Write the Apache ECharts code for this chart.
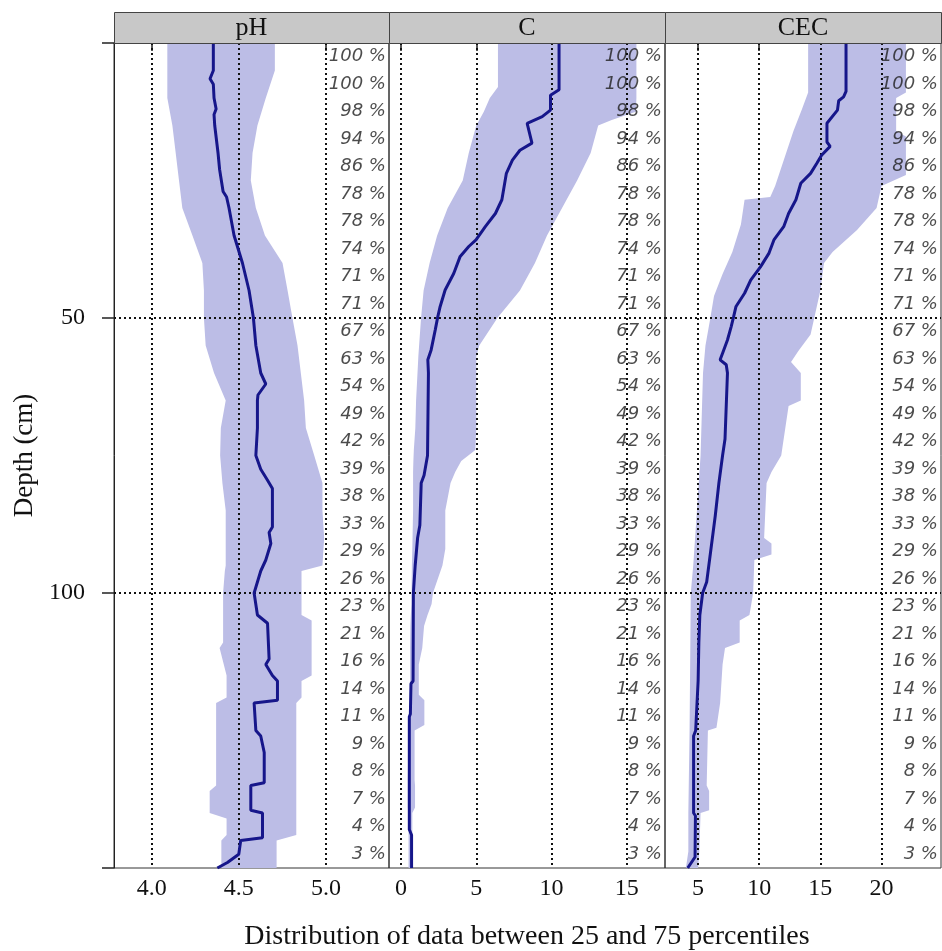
<!DOCTYPE html>
<html>
<head>
<meta charset="utf-8">
<script src="https://cdn.jsdelivr.net/npm/echarts@6/dist/echarts.min.js"></script>
<style>html,body{margin:0;padding:0;background:#fff}#c{width:942px;height:951px}</style>
</head>
<body>
<div id="c"></div>
<script>
// ---------- data ----------
const panelNames = ['pH', 'C', 'CEC'];
const depthTicks = [50, 100];
const phTicks = [4.0, 4.5, 5.0];
const cTicks = [0, 5, 10, 15];
const cecTicks = [5, 10, 15, 20];

const binDepth = [2.5, 7.5, 12.5, 17.5, 22.5, 27.5, 32.5, 37.5, 42.5, 47.5, 52.5, 57.5, 62.5, 67.5, 72.5,
  77.5, 82.5, 87.5, 92.5, 97.5, 102.5, 107.5, 112.5, 117.5, 122.5, 127.5, 132.5, 137.5, 142.5, 147.5];
const pctLabels = ['100 %', '100 %', '98 %', '94 %', '86 %', '78 %', '78 %', '74 %', '71 %', '71 %', '67 %', '63 %',
  '54 %', '49 %', '42 %', '39 %', '38 %', '33 %', '29 %', '26 %', '23 %', '21 %', '16 %', '14 %', '11 %', '9 %',
  '8 %', '7 %', '4 %', '3 %'];

// pH
const phBandDepth = [0, 5, 10, 15, 20, 25, 30, 35, 40, 45, 50, 55, 60, 65, 70, 75, 80, 85, 90, 95, 96, 100, 104, 105,
  109, 110, 115, 116, 119, 120, 135, 136, 140, 141, 144, 145, 150];
const phLow = [4.09, 4.09, 4.09, 4.119, 4.138, 4.157, 4.176, 4.234, 4.291, 4.30, 4.30, 4.31, 4.358, 4.425, 4.397,
  4.393, 4.406, 4.425, 4.425, 4.425, 4.42, 4.41, 4.41, 4.41, 4.41, 4.39, 4.43, 4.43, 4.43, 4.37, 4.37, 4.333, 4.333,
  4.43, 4.43, 4.40, 4.40];
const phHigh = [4.707, 4.707, 4.655, 4.607, 4.579, 4.569, 4.598, 4.65, 4.751, 4.78, 4.808, 4.837, 4.856, 4.875, 4.885,
  4.933, 4.98, 4.98, 4.99, 4.98, 4.86, 4.86, 4.86, 4.918, 4.918, 4.918, 4.918, 4.86, 4.86, 4.83, 4.83, 4.83, 4.83,
  4.83, 4.83, 4.717, 4.717];
const phMedDepth = [0, 5, 6.5, 7.5, 10, 12, 13, 15, 20, 23, 25, 27, 28, 30, 35, 40, 45, 50, 55, 60, 62, 64, 65, 70, 75,
  77.5, 79.5, 81, 88, 89, 91, 94, 96, 98, 100, 104, 105.5, 112, 113, 115, 116, 119.5, 120, 125, 126, 129, 134.5, 135,
  139.5, 140, 144.5, 145, 147.5, 149, 150];
const phMed = [4.354, 4.354, 4.335, 4.354, 4.358, 4.37, 4.358, 4.362, 4.381, 4.39, 4.40, 4.41, 4.43, 4.444, 4.473,
  4.521, 4.559, 4.584, 4.598, 4.626, 4.655, 4.61, 4.607, 4.607, 4.598, 4.626, 4.665, 4.693, 4.693, 4.674, 4.684,
  4.655, 4.626, 4.607, 4.588, 4.607, 4.665, 4.674, 4.655, 4.693, 4.722, 4.722, 4.588, 4.598, 4.626, 4.646, 4.646,
  4.569, 4.569, 4.636, 4.636, 4.511, 4.50, 4.435, 4.377];

// C
const cBandDepth = [0, 8, 10, 12.5, 14, 15, 20, 25, 30, 35, 40, 45, 50, 55, 57, 65, 70, 74, 76, 78, 80, 85, 92, 95, 100,
  102, 104, 106, 110, 113, 118.5, 119.5, 124, 125, 134, 135, 139, 140, 150];
const cLow = [6.44, 6.44, 5.9, 5.5, 5.2, 5.0, 4.5, 4.1, 3.1, 2.4, 1.9, 1.5, 1.33, 1.2, 1.15, 1.0, 0.95, 0.85, 0.82, 0.8,
  0.8, 0.8, 0.75, 0.72, 0.7, 0.7, 0.65, 0.62, 0.6, 0.6, 0.6, 0.6, 0.55, 0.5, 0.45, 0.45, 0.45, 0.5, 0.5];
const cHigh = [15.64, 15.64, 15.64, 15.6, 14.0, 13.1, 12.6, 11.7, 10.7, 9.7, 8.9, 7.9, 6.4, 5.2, 5.0, 5.0, 5.0, 4.94,
  4.0, 3.6, 3.29, 2.94, 2.94, 2.75, 2.12, 2.03, 1.76, 1.53, 1.41, 1.18, 1.18, 1.55, 1.55, 0.9, 0.9, 0.93, 0.93, 0.75,
  0.75];
const cMedDepth = [0, 8.5, 9.5, 12.2, 13.4, 14.6, 18.2, 19.5, 21.3, 23.7, 28.5, 31, 33.4, 35.8, 37, 38.8, 41.9, 44.9,
  47.9, 49.8, 52.2, 55.8, 57.6, 60, 75, 78.6, 80, 87.7, 90, 95, 100, 116, 116.5, 122, 122.5, 143, 144, 150];
const cMed = [10.5, 10.5, 9.93, 9.93, 9.38, 8.38, 8.7, 7.9, 7.4, 7.0, 6.7, 6.27, 5.6, 4.98, 4.5, 3.93, 3.5, 2.93, 2.6,
  2.44, 2.27, 2.0, 1.78, 1.82, 1.76, 1.53, 1.34, 1.25, 1.1, 0.94, 0.82, 0.8, 0.66, 0.62, 0.55, 0.55, 0.7, 0.7];

// CEC
const cecLowDepth = [0, 9, 12, 16, 20, 26, 28, 28.5, 33, 38, 42, 46, 50, 55, 60, 75, 85, 95, 100, 125, 140, 147, 150];
const cecLow = [14.0, 14.0, 13.5, 12.8, 12.2, 11.3, 10.9, 8.8, 8.5, 7.8, 7.0, 6.3, 6.0, 5.6, 5.4, 5.2, 4.9, 4.6, 4.4,
  4.3, 4.2, 4.2, 4.0];
const cecHighDepth = [0, 9, 10, 16, 17, 24, 26, 30, 34, 38, 40, 45, 48, 50, 53, 56, 58, 60, 65, 66, 75, 78, 80, 90, 91,
  93, 94, 100, 104, 105, 109, 110, 113, 120, 124.5, 125, 135, 136, 139.5, 140, 147, 150];
const cecHigh = [22.0, 22.0, 21.2, 21.2, 22.0, 22.0, 20.0, 19.6, 18.0, 16.0, 15.3, 15.0, 14.7, 14.5, 14.2, 13.2, 12.6,
  13.4, 13.4, 12.4, 11.8, 11.0, 10.6, 10.4, 11.0, 11.0, 9.6, 9.5, 9.2, 8.4, 8.4, 7.2, 7.0, 6.8, 6.5, 5.8, 5.7, 5.9,
  5.9, 5.2, 5.1, 5.0];
const cecMedDepth = [0, 8.8, 9.8, 10.5, 12.2, 14.6, 18, 18.8, 20.4, 21.9, 23.7, 25.5, 28.5, 31, 33.4, 35.8, 38.2, 40.7,
  43.1, 45.5, 47.9, 49.8, 51.6, 54, 56.4, 57.6, 58.5, 60, 72, 75, 80, 86, 92, 98, 100, 104, 109, 116, 125, 126, 140,
  140.5, 148, 150];
const cecMed = [17.1, 17.1, 16.9, 16.5, 16.4, 15.54, 15.54, 15.8, 15.1, 14.7, 14.2, 13.4, 13.0, 12.4, 12.0, 11.2, 10.8,
  10.1, 9.3, 8.8, 8.1, 7.9, 7.7, 7.4, 7.0, 6.8, 7.3, 7.4, 7.2, 7.0, 6.7, 6.4, 6.05, 5.7, 5.37, 5.14, 5.06, 5.0, 4.8,
  4.63, 4.63, 4.78, 4.75, 4.15];

// ---------- layout / style ----------
const SERIF = 'Liberation Serif, Times New Roman, serif';
const BAND = '#bcbde6';
const MED = '#16168a';
const TOP = 43, HEIGHT = 825;
const panels = [
  {left: 114, width: 275, min: 3.784, max: 5.362, ticks: phTicks, dec: 1,
   lowD: phBandDepth, low: phLow, highD: phBandDepth, high: phHigh, medD: phMedDepth, med: phMed},
  {left: 389, width: 276, min: -0.80, max: 17.54, ticks: cTicks, dec: 0,
   lowD: cBandDepth, low: cLow, highD: cBandDepth, high: cHigh, medD: cMedDepth, med: cMed},
  {left: 665, width: 276, min: 2.29, max: 24.87, ticks: cecTicks, dec: 0,
   lowD: cecLowDepth, low: cecLow, highD: cecHighDepth, high: cecHigh, medD: cecMedDepth, med: cecMed}
];

const grids = [], xAxes = [], yAxes = [], series = [], graphics = [];
panels.forEach((p, i) => {
  grids.push({left: p.left, top: TOP, width: p.width, height: HEIGHT, show: true, containLabel: false,
    outerBoundsMode: 'none',
    borderColor: '#333', borderWidth: 1, backgroundColor: 'transparent'});
  xAxes.push({
    type: 'value', gridIndex: i, min: p.min, max: p.max,
    splitLine: {show: false},
    axisLine: {show: true, lineStyle: {color: '#222', width: 1}},
    axisTick: {show: true, customValues: p.ticks, length: 8, lineStyle: {color: '#222', width: 1.5}},
    axisLabel: {show: true, customValues: p.ticks, margin: 9, fontFamily: SERIF, fontSize: 24, color: '#111',
      formatter: v => Number(v).toFixed(p.dec)},
    name: i === 1 ? 'Distribution of data between 25 and 75 percentiles' : '',
    nameLocation: 'middle', nameGap: 55,
    nameTextStyle: {fontFamily: SERIF, fontSize: 28, color: '#111'}
  });
  yAxes.push({
    type: 'value', gridIndex: i, min: 0, max: 150, interval: 50, inverse: true,
    show: i === 0,
    splitLine: {show: false},
    axisLine: {show: true, lineStyle: {color: '#222', width: 1}},
    axisTick: {show: true, length: 12, lineStyle: {color: '#222', width: 1.5}},
    axisLabel: {show: true, margin: 29, fontFamily: SERIF, fontSize: 24, color: '#111',
      formatter: v => depthTicks.indexOf(v) >= 0 ? String(v) : ''},
    name: i === 0 ? 'Depth (cm)' : '', nameLocation: 'middle', nameGap: 76, nameRotate: 90,
    nameTextStyle: {fontFamily: SERIF, fontSize: 27, color: '#111'}
  });

  // band (25-75 percentile) as one polygon built through the axes
  series.push({
    type: 'custom', xAxisIndex: i, yAxisIndex: i, z: 1, silent: true,
    data: [[p.low[0], p.lowD[0]]],
    renderItem: function (params, api) {
      const pts = [];
      for (let k = 0; k < p.low.length; k++) pts.push(api.coord([p.low[k], p.lowD[k]]));
      for (let k = p.high.length - 1; k >= 0; k--) pts.push(api.coord([p.high[k], p.highD[k]]));
      return {type: 'polygon', shape: {points: pts}, style: {fill: BAND, stroke: null}};
    }
  });

  // dotted reference lines
  series.push({
    type: 'line', xAxisIndex: i, yAxisIndex: i, data: [], z: 3, silent: true,
    markLine: {
      silent: true, symbol: ['none', 'none'], label: {show: false},
      lineStyle: {color: '#111', type: [2, 3], width: 2},
      emphasis: {disabled: true},
      data: p.ticks.map(v => ({xAxis: v})).concat(depthTicks.map(v => ({yAxis: v})))
    }
  });

  // percentage labels
  series.push({
    type: 'scatter', xAxisIndex: i, yAxisIndex: i, z: 4, silent: true, clip: false,
    symbolSize: 0.1, itemStyle: {color: 'rgba(0,0,0,0)'},
    data: binDepth.map((d, k) => [p.max, d, pctLabels[k]]),
    label: {show: true, position: 'left', distance: 3, formatter: q => q.value[2],
      fontFamily: 'DejaVu Sans, Verdana, sans-serif', fontStyle: 'italic', fontSize: 18, color: '#1e1e1e'}
  });

  // median
  series.push({
    type: 'line', xAxisIndex: i, yAxisIndex: i, z: 5, silent: true,
    symbol: 'none', lineStyle: {color: MED, width: 3},
    data: p.medD.map((d, k) => [p.med[k], d])
  });

  // strip header
  graphics.push({type: 'rect', left: p.left, top: 12, z: 10,
    shape: {width: p.width, height: TOP - 12}, style: {fill: '#c8c8c8', stroke: '#444', lineWidth: 1}});
  graphics.push({type: 'text', z: 11, x: p.left + p.width / 2, y: 12 + (TOP - 12) / 2 + 1,
    style: {text: panelNames[i], font: '26px ' + SERIF, fill: '#111', align: 'center', verticalAlign: 'middle'}});
});

const chart = echarts.init(document.getElementById('c'), null, {renderer: 'canvas'});
chart.setOption({
  animation: false,
  backgroundColor: '#fff',
  grid: grids, xAxis: xAxes, yAxis: yAxes, series: series, graphic: graphics
});
</script>
</body>
</html>
